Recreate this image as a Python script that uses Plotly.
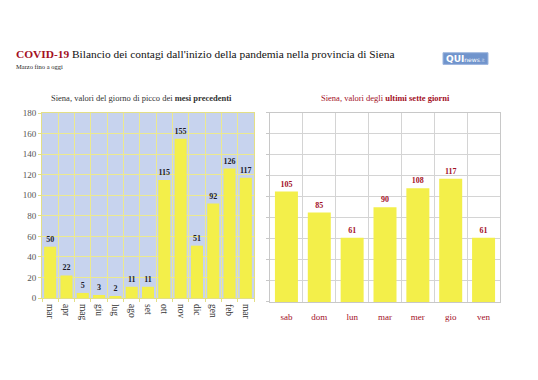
import plotly.graph_objects as go

months = ["mar", "apr", "mag", "giu", "lug", "ago", "set", "ott", "nov", "dic", "gen", "feb", "mar "]
month_peaks = [50, 22, 5, 3, 2, 11, 11, 115, 155, 51, 92, 126, 117]
days = ["sab", "dom", "lun", "mar", "mer", "gio", "ven"]
day_values = [105, 85, 61, 90, 108, 117, 61]
y_ticks = [0, 20, 40, 60, 80, 100, 120, 140, 160, 180]

FONT = "Liberation Serif"
RED = "#a3101f"
BAR = "#f3ef4a"

fig = go.Figure()
fig.add_trace(go.Bar(
    x=months, y=month_peaks, xaxis="x", yaxis="y",
    marker=dict(color=BAR, line=dict(width=0)), width=0.74,
    text=month_peaks, textposition="outside", cliponaxis=False,
    textfont=dict(family=FONT, size=8, color="#1c1c2c"),
    texttemplate="<b>%{text}</b>", hoverinfo="skip",
))
fig.add_trace(go.Bar(
    x=days, y=day_values, xaxis="x2", yaxis="y2",
    marker=dict(color=BAR, line=dict(width=0)), width=0.7,
    text=day_values, textposition="outside", cliponaxis=False,
    textfont=dict(family=FONT, size=8, color=RED),
    texttemplate="<b>%{text}</b>", hoverinfo="skip",
))

W, H = 538, 380
def px(x):
    return x / W
def py(y):
    return 1 - y / H

fig.update_layout(
    width=W, height=H, margin=dict(l=0, r=0, t=0, b=0),
    paper_bgcolor="white", plot_bgcolor="white",
    showlegend=False,
    font=dict(family=FONT, color="#444"),
    xaxis=dict(domain=[px(42), px(254)], type="category", tickson="boundaries",
               showgrid=True, gridcolor="#ece98f", gridwidth=1,
               tickangle=90, tickfont=dict(size=9.5, color="#333"),
               showline=True, linecolor="#e3df86", mirror=True,
               ticks="outside", ticklen=3, tickcolor="#e3df86", anchor="y",
               ticklabelstandoff=3),
    yaxis=dict(domain=[py(301), py(111)], range=[0, 180], tickvals=y_ticks,
               showgrid=True, gridcolor="#ece98f", gridwidth=1,
               tickfont=dict(size=9, color="#555"), zeroline=False,
               showline=True, linecolor="#e3df86", mirror=True,
               ticks="outside", ticklen=3, tickcolor="#e3df86", anchor="x"),
    xaxis2=dict(domain=[px(270), px(500)], type="category", tickson="boundaries",
                showgrid=True, gridcolor="#d4d4d4", gridwidth=1,
                tickfont=dict(size=9, color=RED),
                showline=True, linecolor="#c8c8c8", mirror=True,
                ticks="", anchor="y2", ticklabelstandoff=6),
    yaxis2=dict(domain=[py(305), py(110.5)], range=[0, 180], tickvals=y_ticks,
                showgrid=True, gridcolor="#d4d4d4", gridwidth=1,
                showticklabels=False, zeroline=False,
                showline=True, linecolor="#c8c8c8", mirror=True,
                ticks="outside", ticklen=3, tickcolor="#c8c8c8", anchor="x2"),
)

# left plot background
fig.add_shape(type="rect", xref="paper", yref="paper",
              x0=px(42), x1=px(254), y0=py(301), y1=py(111),
              fillcolor="#c7d3ee", line=dict(width=0), layer="below")

# titles
fig.add_annotation(xref="paper", yref="paper", x=px(14), y=py(50), xanchor="left", yanchor="middle",
                   showarrow=False,
                   text=f"<b><span style='color:{RED}'>COVID-19</span></b> Bilancio dei contagi dall'inizio della pandemia nella provincia di Siena",
                   font=dict(family=FONT, size=11.4, color="#111"))
fig.add_annotation(xref="paper", yref="paper", x=px(14), y=py(63.5), xanchor="left", yanchor="middle",
                   showarrow=False, text="Marzo fino a oggi",
                   font=dict(family=FONT, size=6.5, color="#222"))
fig.add_annotation(xref="paper", yref="paper", x=px(141), y=py(96), xanchor="center", yanchor="middle",
                   showarrow=False, text="Siena, valori del giorno di picco dei <b>mesi precedenti</b>",
                   font=dict(family=FONT, size=8.5, color="#333"))
fig.add_annotation(xref="paper", yref="paper", x=px(385), y=py(96), xanchor="center", yanchor="middle",
                   showarrow=False, text="Siena, valori degli <b>ultimi sette giorni</b>",
                   font=dict(family=FONT, size=8.5, color=RED))

# logo
fig.add_shape(type="rect", xref="paper", yref="paper",
              x0=px(443), x1=px(488), y0=py(61), y1=py(49),
              fillcolor="#7094cc", line=dict(color="#9db6de", width=1))
fig.add_annotation(xref="paper", yref="paper", x=px(465.5), y=py(55), xanchor="center", yanchor="middle",
                   showarrow=False,
                   text="<b>QUI</b><span style='font-size:6px'>news</span><span style='font-size:5px;color:#c8d6ee'>.it</span>",
                   font=dict(family="DejaVu Sans", size=9, color="white"))

fig.write_html("out.html", config={"displayModeBar": False},
               post_script="document.body.style.margin='0';")
